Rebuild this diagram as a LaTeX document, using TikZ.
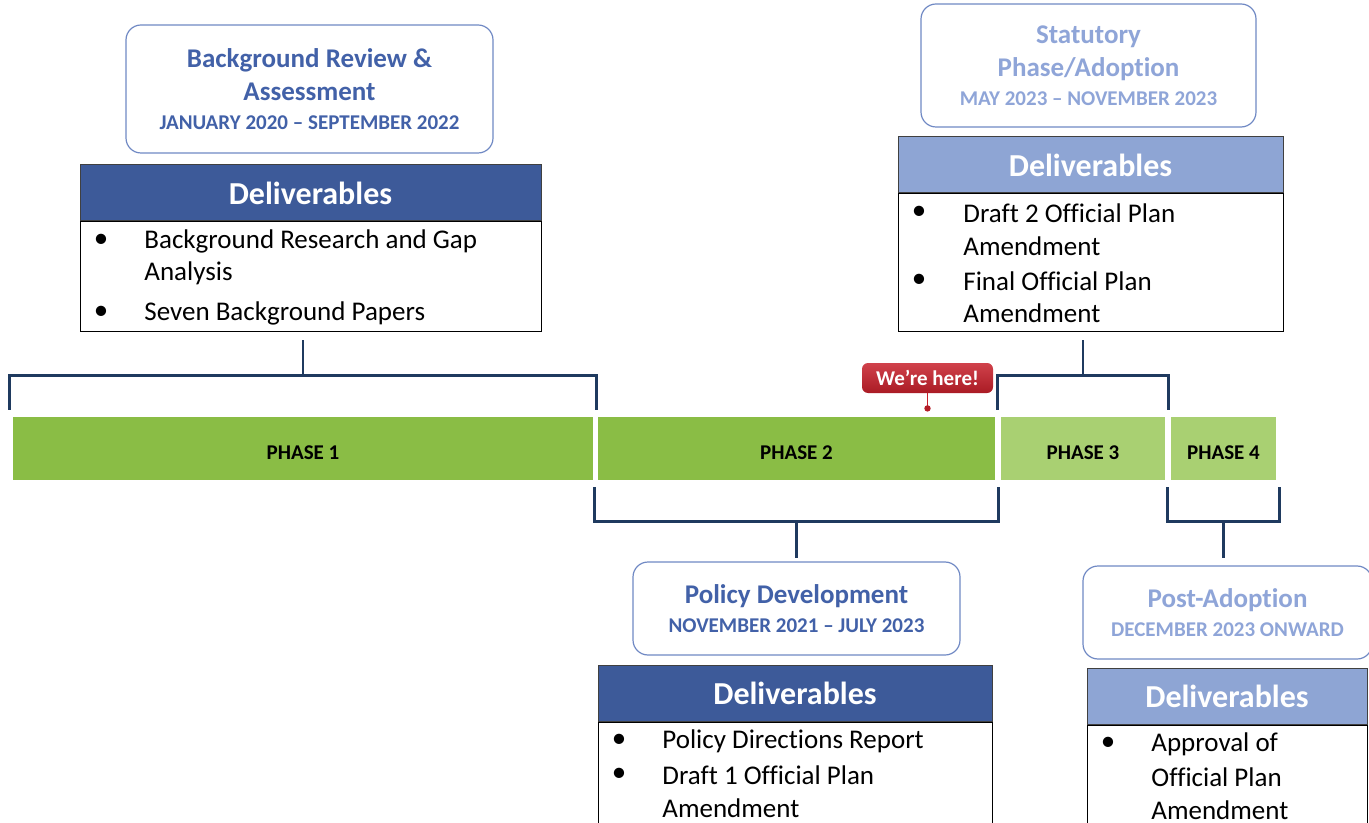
\documentclass[tikz,border=0pt]{standalone}
\usepackage{fontspec}
\setmainfont{Carlito}[Ligatures={TeX,NoCommon}]
\usepackage{tikz}
\usetikzlibrary{calc}

\definecolor{hdDark}{HTML}{3D5A99}
\definecolor{hdLight}{HTML}{8EA5D4}
\definecolor{ttlDark}{HTML}{4261A8}
\definecolor{ttlLight}{HTML}{8FA5D8}
\definecolor{boxEdge}{HTML}{7089C4}
\definecolor{barGreen}{HTML}{8ABD45}
\definecolor{barLight}{HTML}{A9D072}
\definecolor{bracketBlue}{HTML}{1F3A5F}
\definecolor{hereRed}{HTML}{C8202B}

\newcommand{\ttlfont}{\bfseries\fontsize{13.5}{16.5}\selectfont}
\newcommand{\datefont}{\bfseries\fontsize{10.5}{12.5}\selectfont}

\tikzset{phase/.style={fill=barGreen,minimum height=31.5pt,inner sep=0pt,text height=11pt,text depth=0pt,font=\bfseries\fontsize{10.5}{12}\selectfont}}
\tikzset{lightphase/.style={phase,fill=barLight}}
\tikzset{bracket/.style={draw=bracketBlue,line width=1.2pt}}
\tikzset{titlebox/.style={draw=boxEdge,line width=0.6pt,rounded corners=7.5pt,fill=white,align=center,inner sep=0pt,font=\ttlfont}}
\tikzset{header/.style={draw=black!75,line width=0.5pt,minimum height=28pt,inner sep=0pt,text=white,font=\bfseries\fontsize{16}{19}\selectfont}}
\tikzset{body/.style={draw=black,line width=0.5pt,anchor=north,inner sep=0pt}}
\tikzset{item/.style={anchor=west,inner sep=0pt,font=\fontsize{13.5}{16}\selectfont}}

\begin{document}
\begin{tikzpicture}[x=0.5pt,y=-0.5pt]

\useasboundingbox (0,0) rectangle (1369,823);
\clip (0,0) rectangle (1369,823);

% timeline bar
\foreach \n/\x/\w/\s in {1/303/290/phase,2/796.5/198.5/phase,3/1083/82/lightphase,4/1223.5/52.5/lightphase}
  {\node [\s, minimum width=\w pt] (p\n) at (\x,448.5) {PHASE \n};}

% brackets above and below the bar
\foreach \p in {p1,p3} {
  \draw [bracket] ([shift={(-1.5pt,3.5pt)}]\p.north west) -- ++(0,-34) -| ([shift={(1.5pt,3.5pt)}]\p.north east);
  \draw [bracket] (\p.north) ++(0,-41) -- ++(0,-36);
}
\foreach \p in {p2,p4} {
  \draw [bracket] ([shift={(-1.5pt,-3.5pt)}]\p.south west) -- ++(0,34) -| ([shift={(1.5pt,-3.5pt)}]\p.south east);
  \draw [bracket] (\p.south) ++(0,41) -- ++(0,37);
}

% we're here marker
\node [rounded corners=3pt, top color=hereRed!85!white, bottom color=hereRed!85!black, minimum width=65.5pt, minimum height=15pt, inner sep=0pt, text=white, font=\bfseries\fontsize{10.5}{12}\selectfont] (here) at (927.5,378) {We’re here!};
\draw [hereRed, line width=0.6pt] (here.south) -- ++(0,15) coordinate (herept);
\fill [hereRed!90!black] (herept) circle (1.6pt);

% phase 1
\node [titlebox, text=ttlDark, minimum width=183.5pt, minimum height=64pt] (t1) at (309.5,89)
  {Background Review \&\\ Assessment\\[-2pt] {\datefont JANUARY 2020 -- SEPTEMBER 2022}};
\node [header, fill=hdDark, minimum width=230.5pt] (h1) at (310.5,193) {Deliverables};
\node [body, minimum width=230.5pt, minimum height=55pt] (b1) at (h1.south) {};
\foreach \y in {241,313} {\node (u1-\y) at (101,\y) {\fontsize{14.5}{16}\selectfont\textbullet};}
\foreach \y/\t in {241/Background Research and Gap,273/Analysis,313/Seven Background Papers}
  {\node [item] (i1-\y) at (144,\y) {\t};}

% phase 2
\node [titlebox, text=ttlDark, minimum width=163.5pt, minimum height=46.5pt] (t2) at (796.5,608.5)
  {Policy Development\\[-2pt] {\datefont NOVEMBER 2021 -- JULY 2023}};
\node [header, fill=hdDark, minimum width=197pt] (h2) at (795,693) {Deliverables};
\node [body, minimum width=197pt, minimum height=60pt] (b2) at (h2.south) {};
\foreach \y in {741,775} {\node (u2-\y) at (619,\y) {\fontsize{14.5}{16}\selectfont\textbullet};}
\foreach \y/\t in {741/Policy Directions Report,775/Draft 1 Official Plan,808/Amendment}
  {\node [item] (i2-\y) at (662,\y) {\t};}

% phase 3
\node [titlebox, text=ttlLight, minimum width=167.5pt, minimum height=61.5pt] (t3) at (1088.5,65.5)
  {Statutory\\ Phase/Adoption\\[-2pt] {\datefont MAY 2023 -- NOVEMBER 2023}};
\node [header, fill=hdLight, minimum width=192.5pt] (h3) at (1090.5,165) {Deliverables};
\node [body, minimum width=192.5pt, minimum height=69pt] (b3) at (h3.south) {};
\foreach \y in {213,281} {\node (u3-\y) at (919,\y) {\fontsize{14.5}{16}\selectfont\textbullet};}
\foreach \y/\t in {213/Draft 2 Official Plan,246/Amendment,281/Final Official Plan,313/Amendment}
  {\node [item] (i3-\y) at (963,\y) {\t};}

% phase 4
\node [titlebox, text=ttlLight, minimum width=144.5pt, minimum height=46.5pt] (t4) at (1227.5,612.5)
  {Post-Adoption\\[-2pt] {\datefont DECEMBER 2023 ONWARD}};
\node [header, fill=hdLight, minimum width=140pt] (h4) at (1227,696) {Deliverables};
\node [body, minimum width=140pt, minimum height=58pt] (b4) at (h4.south) {};
\node (u4-744) at (1108,744) {\fontsize{14.5}{16}\selectfont\textbullet};
\foreach \y/\t in {744/Approval of,777/Official Plan,810/Amendment}
  {\node [item] (i4-\y) at (1151,\y) {\t};}

\end{tikzpicture}
\end{document}
